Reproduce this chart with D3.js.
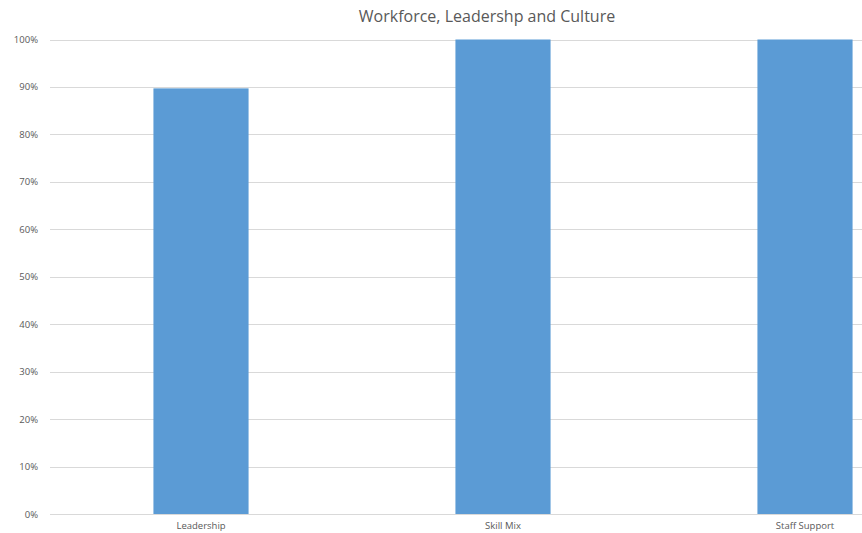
<!DOCTYPE html>
<html>
<head>
<meta charset="utf-8">
<script src="https://cdn.jsdelivr.net/npm/d3@7"></script>
<style>
  body { margin: 0; background: #fff; }
  svg { display: block; font-family: "Open Sans", sans-serif; }
</style>
</head>
<body>
<div id="chart"></div>
<script>
var categories = ["Leadership", "Skill Mix", "Staff Support"];
var values = [0.897, 1.0, 1.0];
var yTicks = [0, 0.1, 0.2, 0.3, 0.4, 0.5, 0.6, 0.7, 0.8, 0.9, 1.0];
var title = "Workforce, Leadershp and Culture";

var width = 862;
var height = 533;
var margin = { top: 39.5, left: 50, bottom: 19 };
var plotRight = 956; // plot runs past the right edge of the picture

var svg = d3.select("#chart")
  .append("svg")
  .attr("width", width)
  .attr("height", height);

var x = d3.scaleBand()
  .domain(categories)
  .range([margin.left, plotRight])
  .paddingInner(0.685)
  .paddingOuter(0.3425);

var y = d3.scaleLinear()
  .domain([0, 1])
  .range([height - margin.bottom, margin.top]);

// gridlines
svg.append("g")
  .selectAll("line")
  .data(yTicks)
  .enter()
  .append("line")
  .attr("x1", margin.left)
  .attr("x2", plotRight)
  .attr("y1", function(d) { return Math.round(y(d)) + 0.5; })
  .attr("y2", function(d) { return Math.round(y(d)) + 0.5; })
  .attr("stroke", "#d9d9d9")
  .attr("stroke-width", 1);

// bars
svg.append("g")
  .selectAll("rect")
  .data(values)
  .enter()
  .append("rect")
  .attr("x", function(d, i) { return x(categories[i]); })
  .attr("width", x.bandwidth())
  .attr("y", function(d) { return y(d); })
  .attr("height", function(d) { return y(0) - y(d); })
  .attr("fill", "#5b9bd5");

// y axis labels
var yAxis = d3.axisLeft(y)
  .tickValues(yTicks)
  .tickFormat(d3.format(".0%"))
  .tickSize(0)
  .tickPadding(12);

svg.append("g")
  .attr("transform", "translate(" + margin.left + ",0)")
  .call(yAxis)
  .attr("font-family", "'Open Sans', sans-serif")
  .attr("font-size", 9.5)
  .call(function(g) { g.select(".domain").remove(); })
  .selectAll("text")
  .attr("fill", "#595959");

// x axis labels
var xAxis = d3.axisBottom(x).tickSize(0).tickPadding(8);

svg.append("g")
  .attr("transform", "translate(0," + y(0) + ")")
  .call(xAxis)
  .attr("font-family", "'Open Sans', sans-serif")
  .attr("font-size", 9.5)
  .call(function(g) { g.select(".domain").remove(); })
  .selectAll("text")
  .attr("fill", "#595959");

// title
svg.append("text")
  .attr("x", 487)
  .attr("y", 22)
  .attr("text-anchor", "middle")
  .attr("fill", "#595959")
  .style("font-size", "16px")
  .text(title);
</script>
</body>
</html>
